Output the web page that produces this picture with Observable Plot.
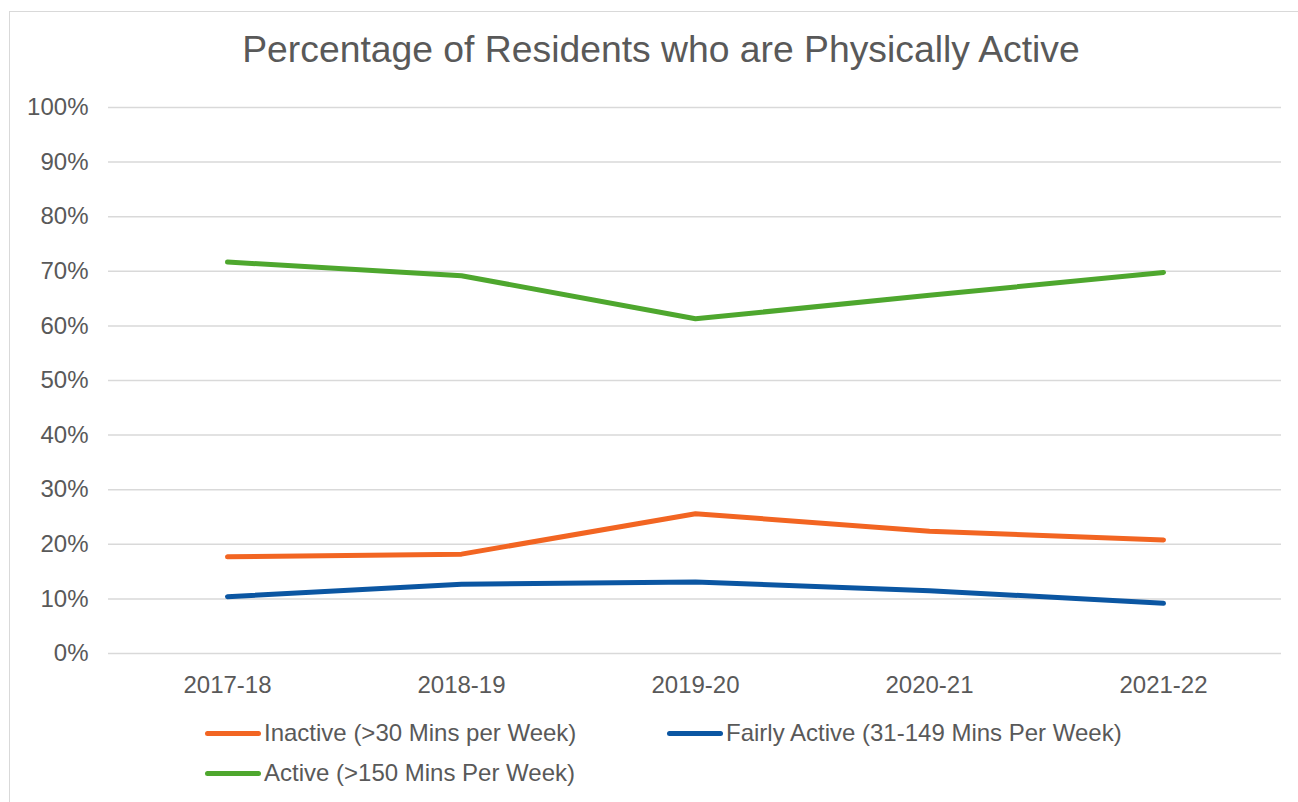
<!DOCTYPE html>
<html>
<head>
<meta charset="utf-8">
<script src="https://cdn.jsdelivr.net/npm/d3@7"></script>
<script src="https://cdn.jsdelivr.net/npm/@observablehq/plot@0.6"></script>
<style>
  html, body { margin: 0; padding: 0; background: #fff; overflow: hidden; }
  body { width: 1298px; height: 802px; position: relative; font-family: "Liberation Sans", Arial, sans-serif; color: #595959; }
  #frame { position: absolute; left: 9px; top: 11px; width: 2000px; height: 2000px; border: 1.5px solid #d9d9d9; box-sizing: border-box; pointer-events: none; }
  #title { height: 80px; box-sizing: border-box; padding-top: 31px; line-height: 36px; font-size: 37.3px; text-align: center; padding-left: 24px; white-space: nowrap; }
  #chart svg { display: block; }
  #legend { display: flex; flex-wrap: wrap; padding-left: 205px; width: 1298px; box-sizing: border-box; }
  .item { width: 462px; height: 40px; display: flex; align-items: center; font-size: 24px; white-space: nowrap; }
  .sw { width: 56px; height: 5px; border-radius: 3px; margin-right: 3px; }
</style>
</head>
<body>
<div id="frame"></div>
<div id="title">Percentage of Residents who are Physically Active</div>
<div id="chart"></div>
<div id="legend"></div>
<script>
const years = ["2017-18", "2018-19", "2019-20", "2020-21", "2021-22"];
const inactive = [0.177, 0.182, 0.256, 0.224, 0.208];
const fairlyActive = [0.104, 0.127, 0.131, 0.115, 0.092];
const active = [0.717, 0.692, 0.613, 0.656, 0.698];
const seriesNames = ["Inactive (>30 Mins per Week)", "Fairly Active (31-149 Mins Per Week)", "Active (>150 Mins Per Week)"];
const seriesColors = ["#F26522", "#0B56A2", "#4EA72E"];
const yTicks = [0, 0.1, 0.2, 0.3, 0.4, 0.5, 0.6, 0.7, 0.8, 0.9, 1.0];

const seriesValues = [inactive, fairlyActive, active];
const data = [];
seriesNames.forEach((s, i) => years.forEach((y, j) => data.push({series: s, year: y, value: seriesValues[i][j]})));

const chart = Plot.plot({
  width: 1298,
  height: 633,
  marginTop: 27,
  marginBottom: 60,
  marginLeft: 108,
  marginRight: 17,
  style: {fontFamily: "'Liberation Sans', Arial, sans-serif", fontSize: "24px", color: "#595959", background: "transparent"},
  x: {type: "point", domain: years, padding: 0.5, label: null},
  y: {domain: [0, 1], label: null},
  color: {domain: seriesNames, range: seriesColors},
  marks: [
    Plot.gridY(yTicks, {stroke: "#d9d9d9", strokeOpacity: 1, strokeWidth: 1.5}),
    Plot.axisY(yTicks, {tickFormat: d3.format(".0%"), tickSize: 0, tickPadding: 20, label: null, fill: "#595959"}),
    Plot.axisX({tickSize: 0, tickPadding: 22, label: null, fill: "#595959"}),
    Plot.line(data, {x: "year", y: "value", z: "series", stroke: "series", strokeWidth: 5, strokeLinecap: "round", strokeLinejoin: "round"})
  ]
});
document.getElementById("chart").appendChild(chart);

const legend = document.getElementById("legend");
seriesNames.forEach((s, i) => {
  const item = document.createElement("div");
  item.className = "item";
  const sw = document.createElement("span");
  sw.className = "sw";
  sw.style.background = seriesColors[i];
  const t = document.createElement("span");
  t.textContent = s;
  item.appendChild(sw);
  item.appendChild(t);
  legend.appendChild(item);
});
</script>
</body>
</html>
